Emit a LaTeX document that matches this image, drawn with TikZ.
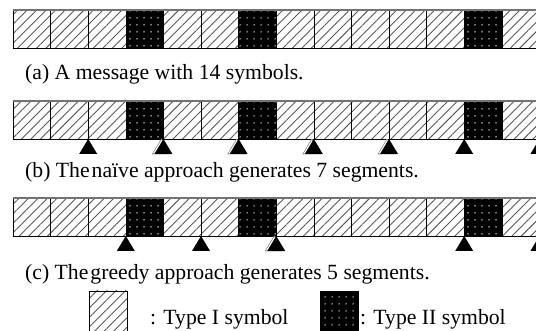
\documentclass[tikz,border=0pt]{standalone}
\usepackage{fontspec}
\setmainfont{Liberation Serif}
\usetikzlibrary{patterns.meta}
\tikzset{
  hatchcell/.style={draw=black, line width=0.6pt,
    pattern={Lines[angle=45,distance=6.7pt,line width=0.9pt]}, pattern color=black!65},
  darkcell/.style={draw=black, line width=0.6pt, fill=black,
    postaction={pattern={Dots[distance=6.5pt,radius=0.75pt]}, pattern color=white}},
  tri/.style={fill=black},
  trishadow/.style={draw=black!45, line width=0.6pt, fill=white},
  capt/.style={anchor=base west, inner sep=0pt, font=\fontsize{21.7}{26}\selectfont},
}
\begin{document}
\begin{tikzpicture}[x=1pt,y=-1pt]
\useasboundingbox (0,0) rectangle (536,331);
\clip (0,0) rectangle (536,331);
% three rows of 14 symbols
\foreach \yt in {10,101,198} {
  \foreach \i in {0,1,2,4,5,7,8,9,10,11,13}
    \path[hatchcell] (13+37.6*\i,\yt) rectangle ++(37.6,38);
  \foreach \i in {3,6,12}
    \path[darkcell] (13+37.6*\i,\yt) rectangle ++(37.6,38);
  \draw[black!55, line width=1.2pt] (13,\yt) -- (540,\yt);
}
% naive segmentation markers (row b)
\foreach \i in {4,6,8,10}
  \path[trishadow] (13+37.6*\i-2,139) -- ++(-9,15) -- ++(18,0) -- cycle;
\foreach \i in {2,4,6,8,10,12,14}
  \path[tri] (13+37.6*\i,139) -- ++(-9,15) -- ++(18,0) -- cycle;
% greedy segmentation markers (row c)
\foreach \i in {7}
  \path[trishadow] (13+37.6*\i-2,236) -- ++(-9,15) -- ++(18,0) -- cycle;
\foreach \i in {3,5,7,12,14}
  \path[tri] (13+37.6*\i,236) -- ++(-9,15) -- ++(18,0) -- cycle;
% captions
\node[capt] (capA) at (25,80) {(a) A message with 14 symbols.};
\node[capt] (capB) at (25,178) {(b) The\kern2pt naïve approach generates 7 segments.};
\node[capt] (capC) at (25,280) {(c) The\kern2pt greedy approach generates 5 segments.};
% legend
\path[hatchcell] (89,291) rectangle (127,331);
\node[capt] (legI) at (150,325) {: Type I symbol};
\path[darkcell] (320,291) rectangle (358,331);
\node[capt] (legII) at (360,325) {: Type II symbol};
\end{tikzpicture}
\end{document}
